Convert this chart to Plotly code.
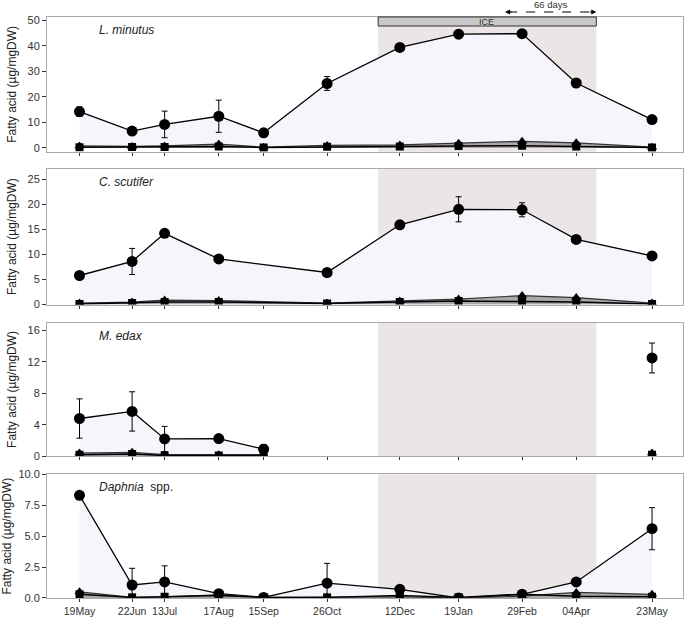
import plotly.graph_objects as go
from plotly.subplots import make_subplots

# sampling dates (2015-2016)
dates = ['2015-05-19', '2015-06-22', '2015-07-13', '2015-08-17', '2015-09-15', '2015-10-26',
         '2015-12-12', '2016-01-19', '2016-02-29', '2016-04-04', '2016-05-23']
date_labels = ['19May', '22Jun', '13Jul', '17Aug', '15Sep', '26Oct',
               '12Dec', '19Jan', '29Feb', '04Apr', '23May']

# L. minutus
lm_total = [14.2, 6.6, 9.2, 12.4, 5.9, 25.2, 39.3, 44.5, 44.7, 25.4, 11.1]
lm_err = [1.9, 0.3, 5.2, 6.3, 0.3, 2.7, 0.3, 0.8, 0.4, 0.8, 0.3]
lm_tri = [0.8, 0.6, 0.8, 1.5, 0.3, 1.0, 1.2, 1.8, 2.6, 2.0, 0.3]
lm_sq = [0.3, 0.4, 0.4, 0.6, 0.2, 0.5, 0.6, 0.8, 0.9, 0.6, 0.2]

# C. scutifer (no 15Sep sample)
cs_total = [5.8, 8.6, 14.2, 9.1, None, 6.4, 15.9, 19.0, 18.9, 13.0, 9.7]
cs_err = [0.4, 2.6, 0.3, 0.3, None, 0.3, 0.3, 2.5, 1.4, 0.3, 0.3]
cs_tri = [0.3, 0.5, 0.9, 0.8, None, 0.3, 0.7, 1.1, 1.8, 1.4, 0.3]
cs_sq = [0.1, 0.3, 0.5, 0.5, None, 0.2, 0.5, 0.7, 0.6, 0.5, 0.1]

# M. edax (no samples Oct-Apr)
me_total = [4.8, 5.7, 2.2, 2.25, 0.9, None, None, None, None, None, 12.5]
me_err = [2.5, 2.5, 1.6, 0.1, 0.6, None, None, None, None, None, 1.9]
me_tri = [0.4, 0.5, 0.2, 0.2, 0.2, None, None, None, None, None, 0.4]
me_sq = [0.2, 0.3, 0.1, 0.1, 0.1, None, None, None, None, None, 0.2]

# Daphnia spp.
dp_total = [8.3, 1.05, 1.3, 0.35, 0.05, 1.2, 0.7, 0.0, 0.3, 1.3, 5.6]
dp_err = [0.1, 1.35, 1.3, 0.25, 0.05, 1.6, 0.1, 0.05, 0.25, 0.1, 1.7]
dp_tri = [0.5, 0.05, 0.1, 0.25, 0.05, 0.05, 0.1, 0.0, 0.15, 0.45, 0.3]
dp_sq = [0.3, 0.05, 0.1, 0.2, 0.05, 0.05, 0.2, 0.05, 0.3, 0.15, 0.1]

panels = [
    ('<i>L. minutus</i>', lm_total, lm_err, lm_tri, lm_sq, [-1.5, 51.2], [0, 10, 20, 30, 40, 50], None, True),
    ('<i>C. scutifer</i>', cs_total, cs_err, cs_tri, cs_sq, [0, 27.1], [0, 5, 10, 15, 20, 25], None, True),
    ('<i>M. edax</i>', me_total, me_err, me_tri, me_sq, [0, 17], [0, 4, 8, 12, 16], None, False),
    ('<i>Daphnia</i>  spp.', dp_total, dp_err, dp_tri, dp_sq, [0, 10], [0, 2.5, 5, 7.5, 10],
     ['0.0', '2.5', '5.0', '7.5', '10.0'], True),
]

ice_start, ice_end = '2015-11-28', '2016-04-17'


def segments(vals, connect):
    # split a series into runs of non-missing points (or one run if connected)
    idx = [i for i, v in enumerate(vals) if v is not None]
    if connect:
        return [idx]
    runs, cur = [], []
    for i, v in enumerate(vals):
        if v is None:
            if cur:
                runs.append(cur)
            cur = []
        else:
            cur.append(i)
    if cur:
        runs.append(cur)
    return runs


fig = make_subplots(rows=4, cols=1, shared_xaxes=True, vertical_spacing=0.03)

domains = [[0.768, 1.0], [0.505, 0.739], [0.244, 0.474], [0.0, 0.213]]

for i, (name, tot, err, tri, sq, yr, yt, ytt, connect) in enumerate(panels):
    r = i + 1
    for seg in segments(tot, connect):
        xs = [dates[k] for k in seg]
        fig.add_trace(go.Scatter(
            x=xs, y=[tot[k] for k in seg], mode='lines+markers',
            line=dict(color='black', width=1.3),
            marker=dict(symbol='circle', size=11, color='black'),
            error_y=dict(type='data', array=[err[k] for k in seg], color='black', thickness=1, width=3),
            fill='tozeroy', fillcolor='#f6f5fc',
            showlegend=False), row=r, col=1)
        fig.add_trace(go.Scatter(
            x=xs, y=[tri[k] for k in seg], mode='lines+markers',
            line=dict(color='#333333', width=1.2),
            marker=dict(symbol='triangle-up', size=9, color='black'),
            fill='tozeroy', fillcolor='#a8a8a8',
            showlegend=False), row=r, col=1)
        fig.add_trace(go.Scatter(
            x=xs, y=[sq[k] for k in seg], mode='lines+markers',
            line=dict(color='black', width=1.5),
            marker=dict(symbol='square', size=8, color='black'),
            showlegend=False), row=r, col=1)

    ax = '' if r == 1 else str(r)
    fig.add_shape(type='rect', xref='x' + ax, yref='y' + ax + ' domain',
                  x0=ice_start, x1=ice_end, y0=0, y1=1,
                  fillcolor='#ebe5e5', line=dict(width=0), layer='below')
    fig.add_annotation(x=0.078, y=0.97, xref='x' + ax + ' domain', yref='y' + ax + ' domain',
                       text=name, showarrow=False, xanchor='left', yanchor='top',
                       font=dict(size=12, color='#222222'))

    fig.update_yaxes(row=r, col=1, range=yr, tickvals=yt, ticktext=ytt,
                     domain=domains[i], automargin=False,
                     title=dict(text='Fatty acid (µg/mgDW)', font=dict(size=12, color='#222222'), standoff=8),
                     showgrid=False, zeroline=False, showline=True, linecolor='#aaaaaa', mirror=True,
                     ticks='outside', ticklen=4, tickcolor='#333333',
                     tickfont=dict(size=11, color='#333333'))
    fig.update_xaxes(row=r, col=1, type='date', range=['2015-04-28', '2016-06-12'],
                     tickvals=dates, ticktext=date_labels, showticklabels=(r == 4),
                     automargin=False,
                     showgrid=False, zeroline=False, showline=True, linecolor='#aaaaaa', mirror=True,
                     ticks='outside', ticklen=3, tickcolor='#333333',
                     tickfont=dict(size=10.5, color='#333333'))

# ICE bar on top panel
fig.add_shape(type='rect', xref='x', yref='paper', x0=ice_start, x1=ice_end,
              y0=0.9845, y1=1.0, fillcolor='#c8c8c8', line=dict(color='#333333', width=1))
fig.add_annotation(x='2016-02-06', y=0.9922, xref='x', yref='paper', text='ICE',
                   showarrow=False, yanchor='middle', font=dict(size=9, color='#333333'))

# 66 days arrow
fig.add_shape(type='line', xref='x', yref='paper', x0='2016-02-20', x1='2016-04-15',
              y0=1.0086, y1=1.0086, line=dict(color='black', width=1, dash='dash'))
for xe, off in [('2016-02-18', 8), ('2016-04-17', -8)]:
    fig.add_annotation(x=xe, y=1.0086, xref='x', yref='paper', ax=off, ay=0,
                       text='', showarrow=True, arrowhead=2, arrowsize=1, arrowwidth=1,
                       arrowcolor='black')
fig.add_annotation(x='2016-03-19', y=1.022, xref='x', yref='paper', text='66 days',
                   showarrow=False, yanchor='middle', borderpad=0,
                   font=dict(size=9.5, color='#333333'))

fig.update_layout(width=685, height=617, plot_bgcolor='white', paper_bgcolor='white',
                  margin=dict(l=47, r=2, t=17, b=19),
                  font=dict(family='Arial, Liberation Sans, sans-serif'))

fig.write_html('out.html', config={'displayModeBar': False},
               post_script="document.body.style.margin='0';")
